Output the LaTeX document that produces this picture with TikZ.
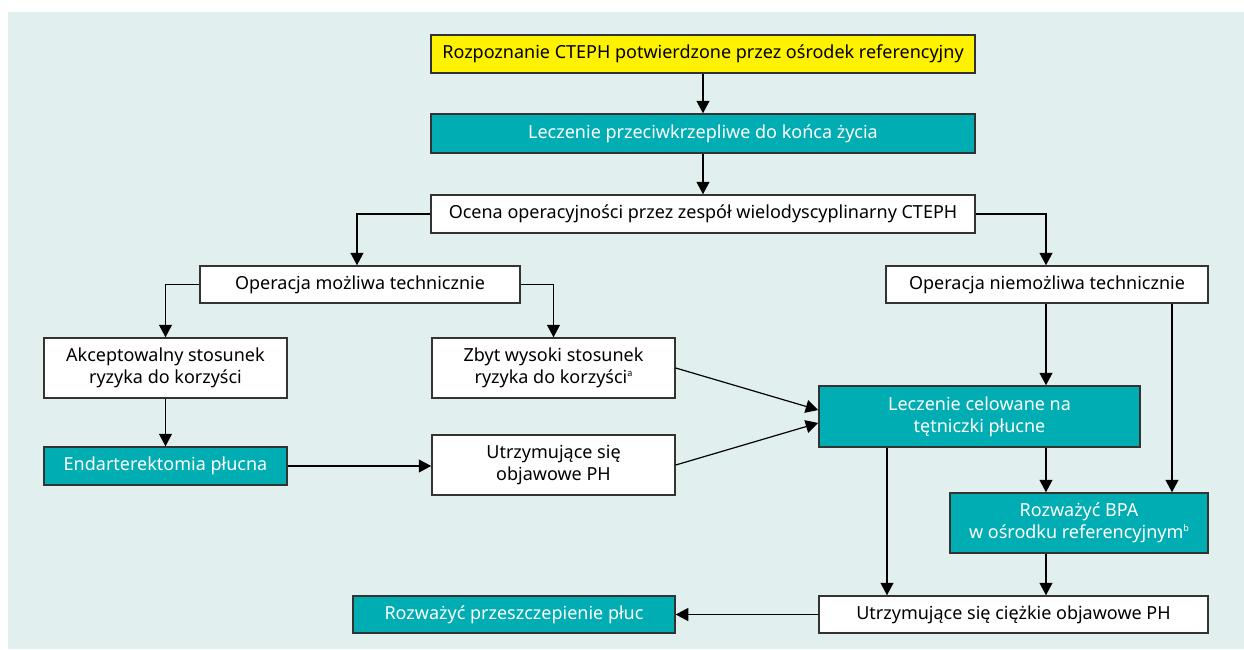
\documentclass[tikz,border=0pt]{standalone}
\usepackage{fontspec}
\setmainfont{Noto Sans}
\usetikzlibrary{arrows.meta}
\definecolor{bgc}{HTML}{E1EFEF}
\definecolor{tealc}{HTML}{00ADB2}
\definecolor{yelc}{HTML}{FFF200}
\definecolor{edgec}{HTML}{333333}
\newcommand{\fnmark}[1]{\raisebox{0.75ex}{\fontsize{4.5}{5}\selectfont #1}}
\begin{document}
\begin{tikzpicture}[x=0.5pt,y=-0.5pt,
  box/.style={draw=edgec, line width=0.75pt, fill=white, inner sep=0pt, align=center,
    font=\fontsize{9}{11}\selectfont, text=black},
  tbox/.style={box, fill=tealc, text=white},
  ybox/.style={box, fill=yelc},
  arr/.style={-{Triangle[width=6.5pt,length=6.25pt]}, line width=0.6pt, draw=black}]
\path[use as bounding box] (0,0) rectangle (1244,649);
\fill[bgc] (8,12) rectangle (1244,649);

\node[ybox, minimum width=272pt, minimum height=19pt] (diag) at (703,54) {Rozpoznanie CTEPH potwierdzone przez ośrodek referencyjny};
\node[tbox, minimum width=272pt, minimum height=19.5pt] (anti) at (703,133.5) {Leczenie przeciwkrzepliwe do końca życia};
\node[box, minimum width=272pt, minimum height=19pt] (ocena) at (703,214) {Ocena operacyjności przez zespół wielodyscyplinarny CTEPH};
\node[box, minimum width=160pt, minimum height=18.5pt] (opm) at (360,284.5) {Operacja możliwa technicznie};
\node[box, minimum width=161pt, minimum height=18.5pt] (opn) at (1047,284.5) {Operacja niemożliwa technicznie};
\node[box, minimum width=121.5pt, minimum height=30pt] (akc) at (165.5,368) {Akceptowalny stosunek\\ryzyka do korzyści};
\node[box, minimum width=121.5pt, minimum height=30pt] (zbyt) at (553.5,368) {Zbyt wysoki stosunek\\ryzyka do korzyści\fnmark{a}};
\node[tbox, minimum width=160.5pt, minimum height=30.5pt] (celow) at (979.5,416.5) {Leczenie celowane na\\tętniczki płucne};
\node[tbox, minimum width=121.5pt, minimum height=19pt] (endart) at (165.5,466) {Endarterektomia płucna};
\node[box, minimum width=121.5pt, minimum height=30pt] (utrz) at (553.5,465) {Utrzymujące się\\objawowe PH};
\node[tbox, minimum width=129pt, minimum height=30pt] (bpa) at (1079,523) {Rozważyć BPA\\w ośrodku referencyjnym\fnmark{b}};
\node[tbox, minimum width=161pt, minimum height=18.5pt] (przes) at (514,614.5) {Rozważyć przeszczepienie płuc};
\node[box, minimum width=194.5pt, minimum height=18.5pt] (ciez) at (1013.5,614.5) {Utrzymujące się ciężkie objawowe PH};

\coordinate (c1) at (1046,0);
\coordinate (c2) at (1172,0);
\coordinate (c3) at (887,0);
\coordinate (c4) at (357,0);

\draw[arr] (diag) -- (anti);
\draw[arr] (anti) -- (ocena);
\draw[arr] (ocena.west) -| (opm.north -| c4);
\draw[arr] (ocena.east) -| (opn.north -| c1);
\draw[arr] (opm.west) -| (akc.north);
\draw[arr] (opm.east) -| (zbyt.north);
\draw[arr] (akc) -- (endart);
\draw[arr] (endart.east) -- (endart.east -| utrz.west);
\draw[arr] (zbyt.east) -- ([yshift=3.25pt]celow.west);
\draw[arr] (utrz.east) -- ([yshift=-3.25pt]celow.west);
\draw[arr] (opn.south -| c1) -- (celow.north -| c1);
\draw[arr] (opn.south -| c2) -- (bpa.north -| c2);
\draw[arr] (celow.south -| c1) -- (bpa.north -| c1);
\draw[arr] (bpa.south -| c1) -- (ciez.north -| c1);
\draw[arr] (celow.south -| c3) -- (ciez.north -| c3);
\draw[arr] (ciez) -- (przes);
\end{tikzpicture}
\end{document}
